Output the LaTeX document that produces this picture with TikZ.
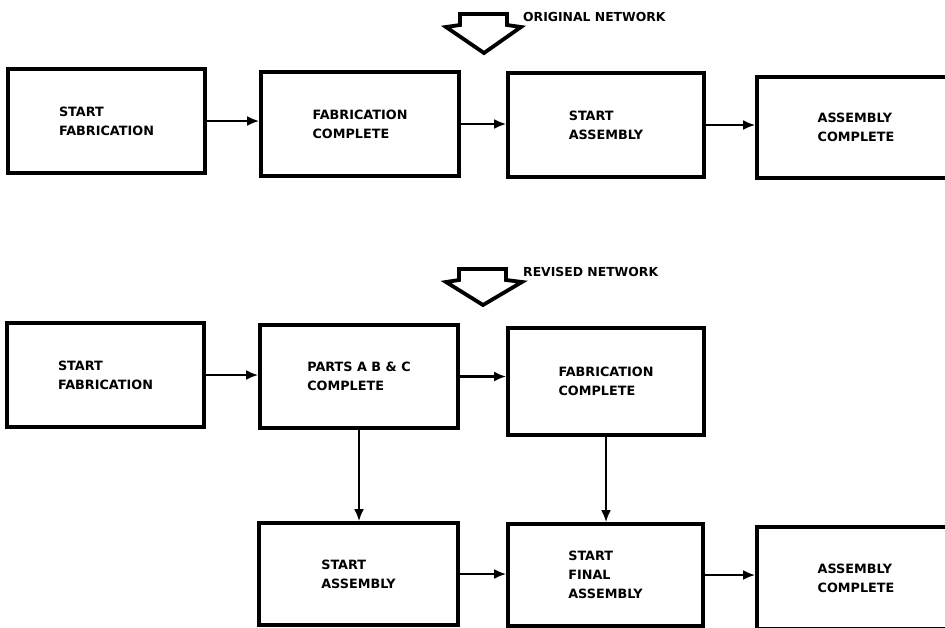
\documentclass[tikz,border=0pt]{standalone}
\usepackage{fontspec}
\setmainfont{DejaVu Sans}
\usetikzlibrary{arrows.meta}
\begin{document}
\begin{tikzpicture}[x=1pt,y=-1pt,
  event/.style={draw=black, line width=3.6pt, fill=white, inner sep=0pt,
    font=\bfseries\fontsize{12.8}{19}\selectfont, align=left},
  flow/.style={line width=2.6pt, -{Latex[length=12pt,width=10pt]}},
  bigarrow/.style={draw=black, line width=3.8pt, line join=miter, fill=white},
  caption/.style={font=\bfseries\fontsize{12.4}{14}\selectfont, anchor=west, inner sep=0pt}]
\useasboundingbox (0,0) rectangle (945,627);
\begin{scope}
\clip (0,0) rectangle (945,627);

% original network
\path[bigarrow] (460,14) -- (507,14) -- (507,25) -- (521,27) -- (484,53)
  -- (446,27) -- (460,25) -- cycle;
\node[caption] (orig) at (523,17) {ORIGINAL NETWORK};

\node[event, minimum width=197pt, minimum height=104pt] (a1) at (106.5,121) {START\\FABRICATION};
\node[event, minimum width=198pt, minimum height=104pt] (a2) at (360,124) {FABRICATION\\COMPLETE};
\node[event, minimum width=196pt, minimum height=104pt] (a3) at (606,125) {START\\ASSEMBLY};
\node[event, minimum width=198pt, minimum height=101pt] (a4) at (856,127.5) {ASSEMBLY\\COMPLETE};

\draw[flow] (a1.east) -- (a1.east -| a2.west);
\draw[flow] (a2.east) -- (a2.east -| a3.west);
\draw[flow] (a3.east) -- (a3.east -| a4.west);

% revised network
\path[bigarrow] (459,269) -- (506,269) -- (506,280) -- (522,282) -- (483,305)
  -- (446,282) -- (459,280) -- cycle;
\node[caption] (rev) at (523,272) {REVISED NETWORK};

\node[event, minimum width=197pt, minimum height=104pt] (b1) at (105.5,375) {START\\FABRICATION};
\node[event, minimum width=198pt, minimum height=103pt] (b2) at (359,376.5) {PARTS A B \& C\\COMPLETE};
\node[event, minimum width=196pt, minimum height=107pt] (b3) at (606,381.5) {FABRICATION\\COMPLETE};
\node[event, minimum width=199pt, minimum height=102pt] (b4) at (358.5,574) {START\\ASSEMBLY};
\node[event, minimum width=195pt, minimum height=102pt] (b5) at (605.5,575) {START\\FINAL\\ASSEMBLY};
\node[event, minimum width=198pt, minimum height=102pt] (b6) at (856,578) {ASSEMBLY\\COMPLETE};

\draw[flow] (b1.east) -- (b1.east -| b2.west);
\draw[flow] (b2.east) -- (b2.east -| b3.west);
\draw[flow] (b2.south) -- (b2.south |- b4.north);
\draw[flow] (b3.south) -- (b3.south |- b5.north);
\draw[flow] (b4.east) -- (b4.east -| b5.west);
\draw[flow] (b5.east) -- (b5.east -| b6.west);
\end{scope}
\end{tikzpicture}
\end{document}
